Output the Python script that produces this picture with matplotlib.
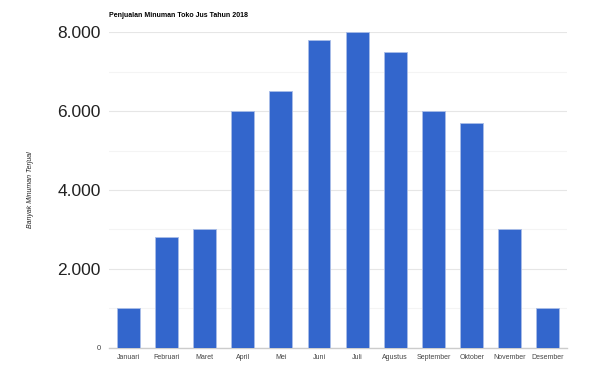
import matplotlib.pyplot as plt
from matplotlib.ticker import FixedLocator

plt.rcParams['font.family'] = ['Liberation Sans', 'DejaVu Sans']

# Data
bulan = ['Januari', 'Februari', 'Maret', 'April', 'Mei', 'Juni', 'Juli',
         'Agustus', 'September', 'Oktober', 'November', 'Desember']
penjualan = [1000, 2800, 3000, 6000, 6500, 7800, 8000, 7500, 6000, 5700, 3000, 1000]
y_ticks = [0, 2000, 4000, 6000, 8000]
y_labels = ['0', '2.000', '4.000', '6.000', '8.000']

fig = plt.figure(figsize=(6, 3.77), dpi=100)
ax = fig.add_axes([0.182, 0.077, 0.763, 0.838])

x = range(len(bulan))
ax.bar(x, penjualan, width=0.6, color='#3366cc', edgecolor='#a9bde8', linewidth=0.6, zorder=3)

ax.set_xlim(-0.5, len(bulan) - 0.5)
ax.set_ylim(0, 8000)
ax.set_xticks(list(x))
ax.set_xticklabels(bulan, fontsize=5, color='#444444')
ax.set_yticks(y_ticks)
ax.set_yticklabels(y_labels)
for lbl in ax.get_yticklabels():
    if lbl.get_text() == '0':
        lbl.set_fontsize(5.5)
        lbl.set_color('#444444')
    else:
        lbl.set_fontsize(12.5)
        lbl.set_color('#222222')
ax.yaxis.set_minor_locator(FixedLocator([1000, 3000, 5000, 7000]))
ax.tick_params(axis='both', which='both', length=0)
ax.tick_params(axis='y', pad=6)
ax.tick_params(axis='x', pad=4)

ax.grid(axis='y', which='major', color='#e6e6e6', linewidth=0.8, zorder=0)
ax.grid(axis='y', which='minor', color='#f4f4f4', linewidth=0.8, zorder=0)
for s in ['top', 'right', 'left']:
    ax.spines[s].set_visible(False)
ax.spines['bottom'].set_color('#cccccc')
ax.spines['bottom'].set_linewidth(1)

ax.set_ylabel('Banyak Minuman Terjual', fontsize=5, style='italic', color='#222222')
ax.yaxis.set_label_coords(-0.165, 0.5)
fig.text(0.182, 0.955, 'Penjualan Minuman Toko Jus Tahun 2018', fontsize=5, fontweight='bold', color='#000000')

fig.savefig('out.png', dpi=100, facecolor='white')
